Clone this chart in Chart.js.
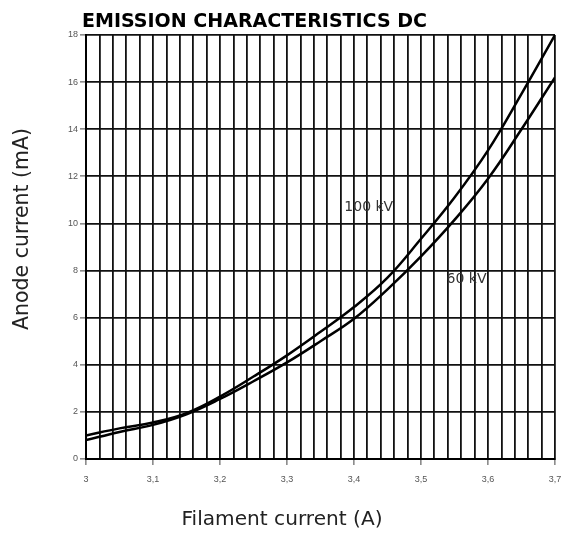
<!DOCTYPE html>
<html>
<head>
<meta charset="utf-8">
<script src="https://cdn.jsdelivr.net/npm/chart.js@4"></script>
<style>
  html, body { margin: 0; padding: 0; background: #fff; }
  #wrap { width: 564px; height: 534px; }
</style>
</head>
<body>
<div id="wrap"><canvas id="mychart"></canvas></div>
<script>
// filament current (A)
const filament = [3.00, 3.05, 3.10, 3.15, 3.20, 3.25, 3.30, 3.35, 3.40, 3.45, 3.50, 3.55, 3.60, 3.65, 3.70]
// anode current (mA)
const anode100kV = [1.0, 1.3, 1.55, 1.95, 2.65, 3.5, 4.4, 5.4, 6.45, 7.7, 9.35, 11.1, 13.1, 15.5, 18.0]
const anode60kV = [0.8, 1.15, 1.45, 1.9, 2.55, 3.3, 4.1, 5.0, 5.95, 7.2, 8.6, 10.15, 11.9, 14.0, 16.2]
const seriesNames = ["100 kV", "60 kV"]
const titleText = "EMISSION CHARACTERISTICS DC"
const xTitle = "Filament current (A)"
const yTitle = "Anode current (mA)"

const isMajor = v => Math.abs(v * 10 - Math.round(v * 10)) < 1e-6
const fmt = v => String(Number(v.toFixed(1))).replace('.', ',')

// where the curve names sit (data coords)
const nameSpots = [{ x: 3.422, y: 10.7 }, { x: 3.568, y: 7.64 }]

const fitFont = (ctx, text, weight, family, width) => {
  ctx.font = weight + " 20px " + family
  let s = 20 * width / ctx.measureText(text).width
  return weight + " " + s.toFixed(2) + "px " + family
}

const textPlugin = {
  id: 'texts',
  afterDraw(chart) {
    const ctx = chart.ctx
    const xs = chart.scales.x, ys = chart.scales.y
    ctx.save()
    ctx.fillStyle = '#000'
    ctx.textBaseline = 'middle'
    // title
    ctx.textAlign = 'left'
    ctx.font = fitFont(ctx, titleText, 'bold', '"DejaVu Sans"', 345)
    ctx.fillText(titleText, 82, 22)
    // axis titles
    ctx.fillStyle = '#222'
    ctx.textAlign = 'center'
    ctx.font = fitFont(ctx, xTitle, 'normal', '"DejaVu Sans"', 201)
    ctx.fillText(xTitle, 282, 520)
    ctx.save()
    ctx.translate(23, 229)
    ctx.rotate(-Math.PI / 2)
    ctx.font = fitFont(ctx, yTitle, 'normal', '"DejaVu Sans"', 202)
    ctx.fillText(yTitle, 0, 0)
    ctx.restore()
    // curve names
    ctx.fillStyle = '#333'
    ctx.font = '14px "DejaVu Sans"'
    seriesNames.forEach((n, i) => {
      ctx.fillText(n, xs.getPixelForValue(nameSpots[i].x), ys.getPixelForValue(nameSpots[i].y))
    })
    ctx.restore()
  }
}

const data = {
  datasets: [
    {
      label: seriesNames[0],
      data: filament.map((f, i) => ({ x: f, y: anode100kV[i] })),
      borderColor: '#000',
      borderWidth: 2.5,
      pointRadius: 0,
      tension: 0.4,
      fill: false
    },
    {
      label: seriesNames[1],
      data: filament.map((f, i) => ({ x: f, y: anode60kV[i] })),
      borderColor: '#000',
      borderWidth: 2.5,
      pointRadius: 0,
      tension: 0.4,
      fill: false
    }
  ]
}

const config = {
  type: 'line',
  data,
  options: {
    responsive: true,
    maintainAspectRatio: false,
    animation: false,
    layout: { padding: { top: 35, right: 0, bottom: 0, left: 0 } },
    plugins: { legend: { display: false }, title: { display: false }, tooltip: { enabled: false } },
    scales: {
      x: {
        type: 'linear',
        min: 3,
        max: 3.7,
        afterFit: s => { s.height = 75; s.paddingRight = 9 },
        border: { color: '#000', width: 2 },
        grid: {
          color: '#111',
          lineWidth: 1.8,
          tickLength: 6,
          tickColor: c => (c.tick && isMajor(c.tick.value)) ? '#444' : 'rgba(0,0,0,0)',
          tickWidth: 1
        },
        ticks: {
          stepSize: 0.02,
          autoSkip: false,
          maxRotation: 0,
          padding: 9,
          color: '#555',
          font: { family: 'Arial, "Liberation Sans"', size: 9 },
          callback: v => isMajor(v) ? fmt(v) : ''
        }
      },
      y: {
        min: 0,
        max: 18,
        afterFit: s => { s.width = 86 },
        border: { color: '#000', width: 2 },
        grid: {
          color: '#111',
          lineWidth: 1.8,
          tickLength: 6,
          tickColor: '#444',
          tickWidth: 1
        },
        ticks: {
          stepSize: 2,
          padding: 2,
          color: '#555',
          font: { family: 'Arial, "Liberation Sans"', size: 9 }
        }
      }
    }
  },
  plugins: [textPlugin]
}

document.addEventListener("DOMContentLoaded", () => {
  new Chart(document.querySelector("#mychart"), config)
})
</script>
</body>
</html>
